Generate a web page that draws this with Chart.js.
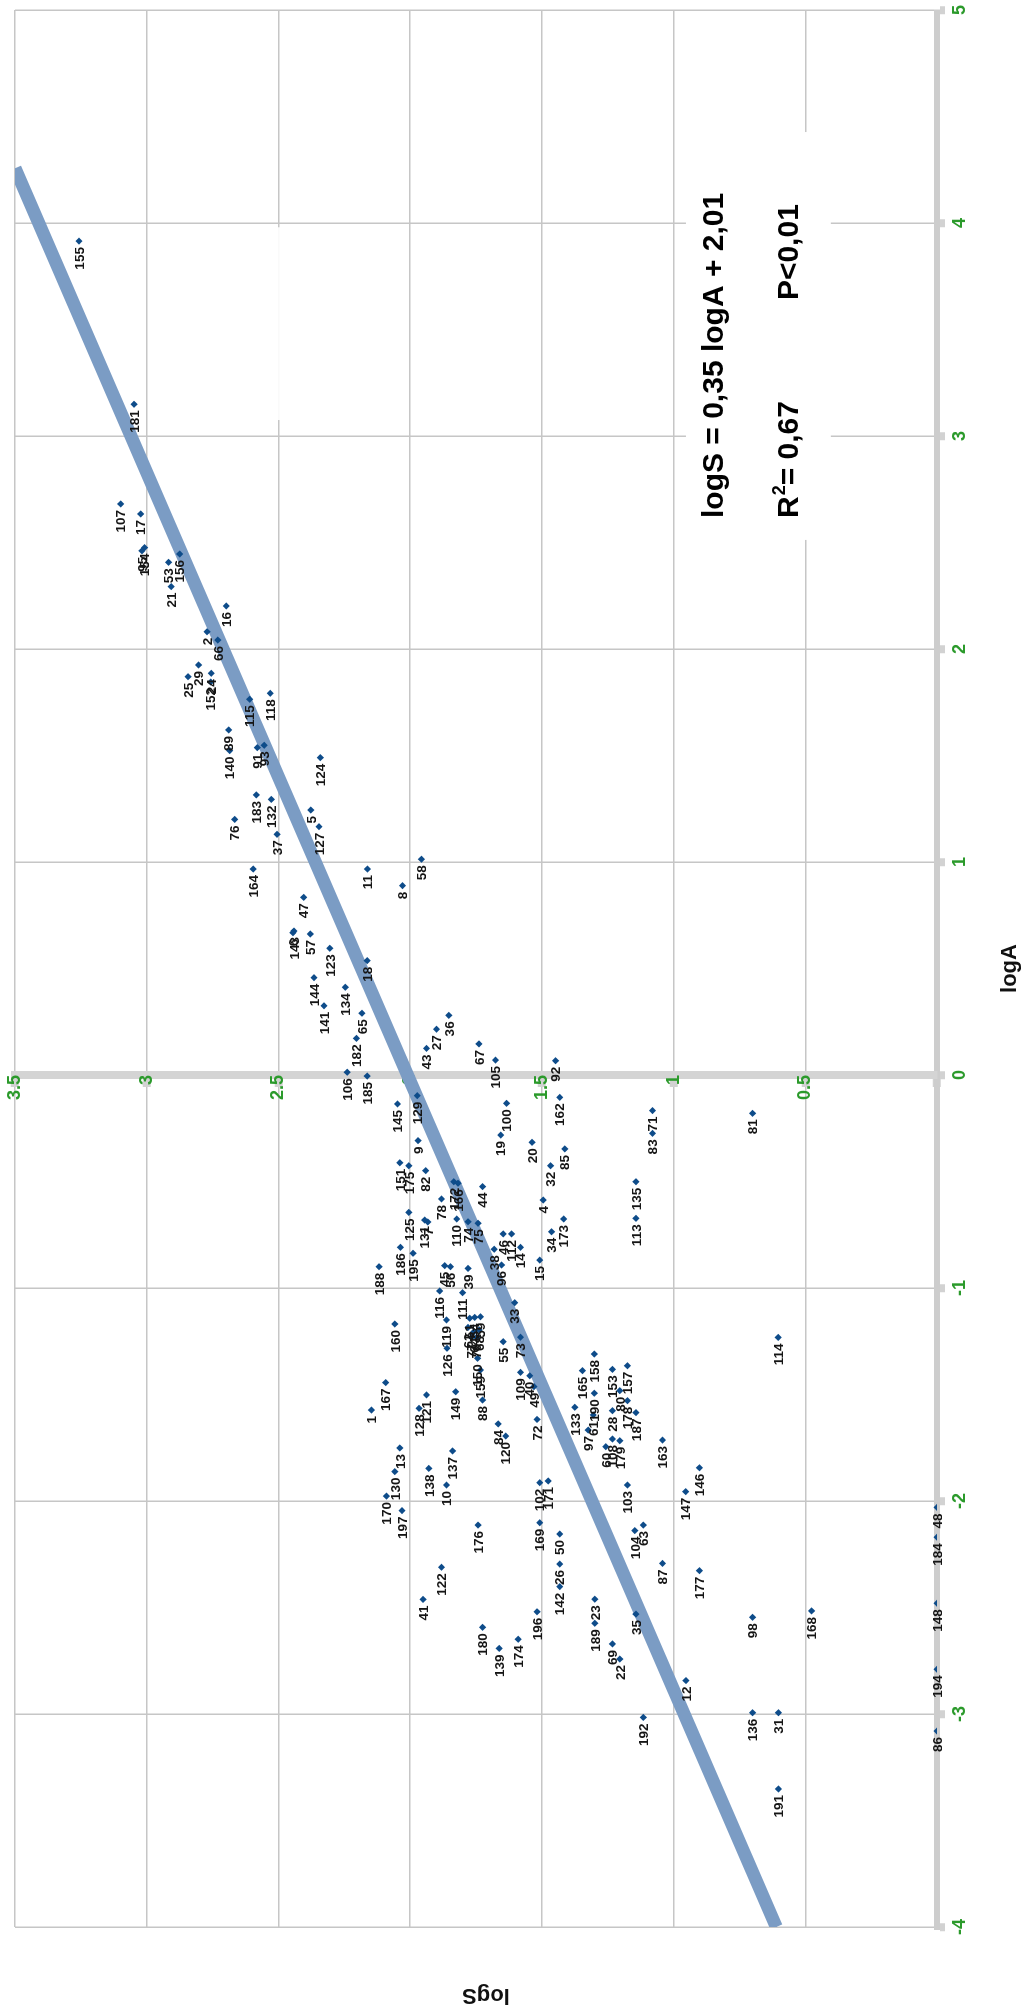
<!DOCTYPE html>
<html>
<head>
<meta charset="utf-8">
<script src="https://cdn.jsdelivr.net/npm/chart.js@4.4.1/dist/chart.umd.min.js"></script>
<style>
  html, body { margin: 0; padding: 0; background: #fff; overflow: hidden; width: 1023px; height: 2015px; }
  /* the plot is laid out landscape and turned a quarter turn counter-clockwise */
  #wrap { position: absolute; left: 0; top: 0; width: 2015px; height: 1023px;
          transform-origin: 0 0; transform: translateY(2015px) rotate(-90deg); }
  canvas { display: block; }
</style>
</head>
<body>
<div id="wrap"><canvas id="c" width="2015" height="1023"></canvas></div>
<script>
// Species number, log area and log species count for every island
const pointIds = [
  155,181,107,17,95,154,21,53,156,16,2,66,25,29,24,152,115,118,89,140,
  91,93,183,132,124,76,37,5,127,164,11,8,58,47,143,6,57,123,18,144,
  134,141,65,36,27,182,106,185,43,67,105,92,145,129,100,162,19,9,20,85,
  151,175,82,32,44,172,166,78,4,110,125,131,7,74,75,173,34,71,83,81,
  135,113,186,195,188,38,46,112,14,15,96,33,39,45,56,116,119,111,160,126,
  51,54,59,62,64,68,70,77,55,73,109,40,49,72,133,149,167,1,121,128,
  150,159,88,84,120,13,137,165,158,190,61,97,153,157,80,178,187,28,108,179,
  60,163,146,147,103,104,63,87,177,114,23,50,130,170,197,138,10,102,171,169,
  176,26,142,122,41,196,180,174,139,189,35,69,22,12,98,168,192,136,31,191,
  48,184,148,194,86
];
const logAValues = [
  3.915,3.149,2.681,2.634,2.461,2.476,2.293,2.407,2.446,2.202,2.081,2.042,1.870,1.925,1.886,1.845,1.764,1.792,1.620,1.523,
  1.537,1.548,1.315,1.294,1.490,1.200,1.130,1.244,1.166,0.967,0.967,0.889,1.013,0.834,0.676,0.668,0.662,0.595,0.537,0.457,
  0.412,0.325,0.290,0.280,0.215,0.172,0.013,-0.005,0.125,0.146,0.070,0.067,-0.136,-0.097,-0.133,-0.105,-0.282,-0.308,-0.316,-0.347,
  -0.412,-0.426,-0.449,-0.426,-0.524,-0.501,-0.508,-0.582,-0.587,-0.676,-0.645,-0.681,-0.690,-0.689,-0.696,-0.676,-0.736,-0.167,-0.274,-0.180,
  -0.501,-0.673,-0.809,-0.837,-0.900,-0.818,-0.746,-0.746,-0.809,-0.869,-0.892,-1.069,-0.908,-0.895,-0.900,-1.014,-1.150,-1.022,-1.169,-1.283,
  -1.142,-1.138,-1.135,-1.185,-1.205,-1.197,-1.232,-1.232,-1.252,-1.231,-1.396,-1.412,-1.463,-1.617,-1.560,-1.487,-1.444,-1.573,-1.502,-1.565,
  -1.330,-1.385,-1.526,-1.638,-1.695,-1.751,-1.765,-1.388,-1.310,-1.494,-1.596,-1.667,-1.382,-1.365,-1.482,-1.529,-1.585,-1.576,-1.709,-1.717,
  -1.745,-1.714,-1.844,-1.956,-1.925,-2.139,-2.113,-2.293,-2.327,-1.232,-2.461,-2.155,-1.862,-1.977,-2.045,-1.847,-1.925,-1.914,-1.906,-2.102,
  -2.113,-2.296,-2.402,-2.311,-2.462,-2.520,-2.593,-2.649,-2.692,-2.574,-2.531,-2.671,-2.742,-2.843,-2.546,-2.516,-3.016,-2.994,-2.994,-3.352,
  -2.03,-2.17,-2.48,-2.79,-3.08
];
const logSValues = [
  3.257,3.048,3.099,3.023,3.018,3.008,2.907,2.917,2.875,2.698,2.771,2.730,2.843,2.803,2.755,2.757,2.609,2.531,2.689,2.685,
  2.580,2.554,2.584,2.527,2.341,2.666,2.505,2.377,2.346,2.596,2.162,2.029,1.957,2.404,2.441,2.445,2.379,2.305,2.163,2.365,
  2.246,2.327,2.183,1.853,1.900,2.204,2.239,2.163,1.938,1.739,1.676,1.448,2.048,1.973,1.634,1.432,1.656,1.970,1.537,1.413,
  2.039,2.005,1.941,1.467,1.725,1.834,1.818,1.881,1.495,1.823,2.005,1.945,1.933,1.780,1.742,1.417,1.463,1.080,1.080,0.700,
  1.143,1.143,2.037,1.989,2.118,1.681,1.647,1.615,1.581,1.508,1.653,1.603,1.780,1.869,1.847,1.888,1.862,1.801,2.058,1.860,
  1.774,1.755,1.733,1.780,1.758,1.738,1.748,1.767,1.647,1.581,1.581,1.546,1.530,1.518,1.375,1.827,2.093,2.147,1.938,1.966,
  1.744,1.733,1.725,1.666,1.637,2.039,1.839,1.346,1.301,1.301,1.305,1.324,1.232,1.175,1.204,1.175,1.143,1.232,1.232,1.204,
  1.257,1.042,0.902,0.954,1.175,1.147,1.115,1.042,0.902,0.603,1.299,1.432,2.058,2.090,2.031,1.929,1.862,1.508,1.476,1.508,
  1.742,1.432,1.432,1.881,1.951,1.518,1.725,1.590,1.662,1.299,1.143,1.232,1.204,0.953,0.700,0.476,1.115,0.700,0.602,0.602,
  0,0,0,0,0
];

// Axis ticks
const logATicks = [-4, -3, -2, -1, 0, 1, 2, 3, 4, 5];
const logSTicks = [0, 0.5, 1, 1.5, 2, 2.5, 3, 3.5];

// Fitted line: logS = 0,35 logA + 2,01
const fitSlope = 0.35;
const fitIntercept = 2.01;
const fitLogA = [-4, 4.257];

const FONT = '"Liberation Sans", Arial, sans-serif';
const TICK_GREEN = '#2b9a2b';

const points = pointIds.map((id, i) => ({ x: logAValues[i], y: logSValues[i] }));
const fitLine = fitLogA.map(a => ({ x: a, y: fitSlope * a + fitIntercept }));

// white panels behind the equation and an empty panel above it
const panels = [
  { a0: 2.512, a1: 4.427, s0: 0.403, s1: 0.953, alpha: 1 },
  { a0: 3.075, a1: 3.980, s0: 2.229, s1: 2.552, alpha: 0.9 }
];

const panelPlugin = {
  id: 'panels',
  beforeDatasetsDraw(chart) {
    const { ctx, scales: { x, y } } = chart;
    ctx.save();
    panels.forEach(p => {
      const x0 = x.getPixelForValue(p.a0), x1 = x.getPixelForValue(p.a1);
      const y0 = y.getPixelForValue(p.s1), y1 = y.getPixelForValue(p.s0);
      ctx.fillStyle = 'rgba(255,255,255,' + p.alpha + ')';
      ctx.fillRect(x0, y0, x1 - x0, y1 - y0);
    });
    ctx.restore();
  }
};

const labelPlugin = {
  id: 'pointLabels',
  afterDatasetsDraw(chart) {
    const { ctx } = chart;
    const meta = chart.getDatasetMeta(0);
    ctx.save();
    ctx.font = 'bold 13.5px ' + FONT;
    ctx.fillStyle = '#151515';
    ctx.textAlign = 'right';
    ctx.textBaseline = 'middle';
    meta.data.forEach((el, i) => {
      ctx.fillText(String(pointIds[i]), el.x - 6, el.y + 1);
    });
    ctx.restore();
  }
};

const textPlugin = {
  id: 'equation',
  afterDraw(chart) {
    const { ctx, scales: { x, y }, chartArea } = chart;
    ctx.save();
    ctx.fillStyle = '#000';
    ctx.textBaseline = 'middle';
    ctx.textAlign = 'left';
    const bold = sz => 'bold ' + sz + 'px ' + FONT;

    const left = x.getPixelForValue(2.615);
    const row1 = y.getPixelForValue(0.843);
    const row2 = y.getPixelForValue(0.558);
    ctx.font = bold(30);
    ctx.fillText('logS = 0,35 logA + 2,01', left, row1);

    ctx.fillText('R', left, row2);
    let cx = left + ctx.measureText('R').width;
    ctx.font = bold(18);
    ctx.fillText('2', cx + 1, row2 - 10);
    cx += ctx.measureText('2').width + 1;
    ctx.font = bold(30);
    ctx.fillText('= 0,67', cx, row2);
    ctx.fillText('P<0,01', x.getPixelForValue(3.638), row2);

    // vertical axis title at the outer edge
    ctx.font = bold(22);
    ctx.fillStyle = '#111';
    ctx.textAlign = 'center';
    ctx.translate(20, (chartArea.top + chartArea.bottom) / 2 + 10);
    ctx.rotate(-Math.PI / 2);
    ctx.fillText('logS', 0, 0);
    ctx.restore();
  }
};

new Chart(document.getElementById('c'), {
  type: 'scatter',
  data: {
    datasets: [
      {
        label: 'islands',
        data: points,
        pointStyle: 'rectRot',
        pointRadius: 3.6,
        pointHoverRadius: 3.6,
        backgroundColor: '#0e4c8a',
        borderWidth: 0,
        order: 1
      },
      {
        label: 'fit',
        type: 'line',
        data: fitLine,
        borderColor: '#7b9cc4',
        borderWidth: 13,
        borderCapStyle: 'butt',
        pointRadius: 0,
        fill: false,
        order: 2
      }
    ]
  },
  options: {
    responsive: false,
    animation: false,
    devicePixelRatio: 1,
    layout: { padding: { left: 88, right: 10, top: 15, bottom: 0 } },
    plugins: { legend: { display: false }, tooltip: { enabled: false } },
    scales: {
      x: {
        type: 'linear',
        position: 'bottom',
        min: -4,
        max: 5,
        afterBuildTicks: s => { s.ticks = logATicks.map(v => ({ value: v })); },
        afterFit: s => { s.height = 86; },
        ticks: {
          color: TICK_GREEN,
          font: { family: FONT, size: 18, weight: 'bold' },
          maxRotation: 0,
          autoSkip: false,
          padding: 4,
          callback: v => String(v)
        },
        grid: { color: '#c6c6c6', lineWidth: 1.5, tickLength: 8, tickWidth: 8, tickColor: '#d2d2d2' },
        border: { color: '#cdcdcd', width: 6 },
        title: { display: true, text: 'logA', color: '#111', font: { family: FONT, size: 22, weight: 'bold' }, padding: 0 }
      },
      y: {
        type: 'linear',
        position: { x: 0 },
        min: 0,
        max: 3.5,
        afterBuildTicks: s => { s.ticks = logSTicks.map(v => ({ value: v })); },
        ticks: {
          color: TICK_GREEN,
          font: { family: FONT, size: 18, weight: 'bold' },
          padding: 3,
          callback: v => (v === 0 ? '' : String(v))
        },
        grid: { color: '#c6c6c6', lineWidth: 1.5, tickLength: 8, tickWidth: 8, tickColor: '#d2d2d2' },
        border: { color: '#d4d4d4', width: 8 },
        title: { display: false }
      }
    }
  },
  plugins: [panelPlugin, labelPlugin, textPlugin]
});
</script>
</body>
</html>
